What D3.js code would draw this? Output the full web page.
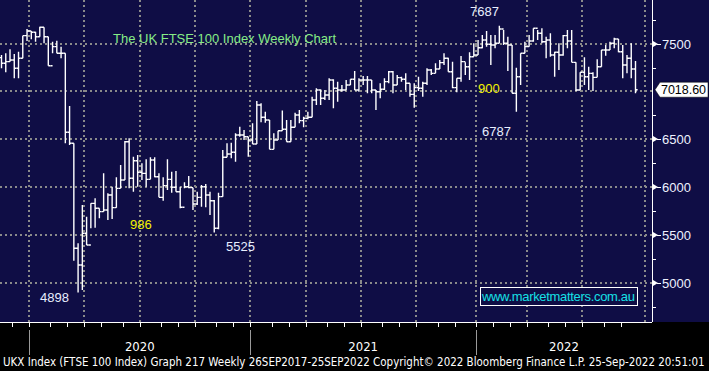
<!DOCTYPE html>
<html>
<head>
<meta charset="utf-8">
<script src="https://cdn.jsdelivr.net/npm/d3@7"></script>
<style>
  body { margin: 0; background: #000; }
  svg { display: block; }
  text { font-family: "Liberation Sans", Arial, sans-serif; }
  .cond { font-family: "DejaVu Sans", sans-serif; font-stretch: condensed; }
</style>
</head>
<body>
<svg id="chart" width="709" height="371"></svg>
<script>
// weekly bars, first week ending 15 Nov 2019, last 23 Sep 2022
const firstWeek = new Date(2019, 10, 15);
const lastWeek = new Date(2022, 8, 23);

const opens = [7354,7295,7312,7330,7243,7347,7584,7633,7619,7573,7672,7573,7270,7469,7400,7400,6573,6458,5360,5185,
  5517,5394,5830,5778,5743,5761,5917,5785,5987,6074,6475,6092,6276,6155,6144,6081,6284,6109,5893,6015,
  6081,5998,5952,5789,6004,5994,5823,5893,6004,5917,5858,5569,5900,6312,6346,6364,6545,6545,6527,6493,
  6451,6859,6730,6702,6395,6493,6590,6605,6475,6626,6754,6695,6720,6730,6911,7016,6929,6963,7120,7034,
  7016,7016,7068,7128,7016,7120,7120,7120,7016,6998,7023,7103,7207,7068,7145,7128,7086,6970,7040,7034,
  7086,7225,7190,7235,7302,7347,7207,7040,7138,7312,7259,7364,7382,7458,7539,7494,7486,7504,7654,7504,
  7486,6981,7155,7400,7469,7528,7661,7609,7521,7539,7382,7410,7382,7584,7528,7305,7016,7201,7155,7190,
  7148,7259,7434,7434,7504,7549,7416,7277,7347,7235];
const highs = [7382,7400,7441,7392,7416,7584,7654,7633,7626,7678,7672,7573,7521,7531,7469,7400,6848,6458,5412,5813,
  5690,5830,5883,5778,6144,5935,6004,6103,6231,6482,6510,6318,6336,6249,6291,6312,6312,6144,6103,6291,
  6161,6169,6004,6050,6116,5994,5952,6022,6032,5952,5865,5941,6388,6458,6465,6563,6632,6597,6527,6667,
  6901,6877,6789,6702,6563,6590,6800,6702,6702,6778,6807,6737,6789,6946,7034,7023,7016,7138,7128,7103,
  7068,7120,7128,7214,7138,7162,7162,7120,7016,7086,7138,7214,7214,7172,7155,7190,7086,7086,7155,7103,
  7243,7235,7295,7330,7400,7354,7312,7138,7371,7305,7410,7504,7539,7591,7633,7591,7591,7687,7643,7573,
  7486,7249,7400,7521,7591,7661,7643,7661,7573,7609,7416,7504,7591,7643,7643,7305,7201,7358,7259,7201,
  7337,7434,7486,7521,7563,7549,7486,7382,7504,7319];
const lows = [7243,7201,7312,7138,7138,7347,7528,7546,7521,7573,7504,7270,7400,7400,7347,6458,6440,5230,4898,4924,
  5394,5569,5575,5674,5743,5656,5667,5785,5987,6074,5987,5952,6004,6074,6004,6081,6103,5893,5858,5970,
  5941,5952,5778,5987,5987,5761,5813,5795,5789,5708,5525,5558,5900,6312,6301,6266,6527,6493,6318,6451,
  6451,6678,6674,6395,6395,6493,6590,6475,6475,6626,6667,6626,6709,6730,6859,6859,6911,6911,6824,6893,
  6998,7016,7068,7016,6998,7068,6981,6981,6807,6929,7016,7086,6981,7068,7103,7016,6946,6831,7005,6946,
  7068,7172,7190,7235,7277,7207,7034,6992,7103,7172,7120,7364,7382,7452,7469,7277,7452,7504,7486,7214,
  6981,6787,7068,7400,7469,7521,7539,7504,7347,7364,7155,7225,7375,7452,7305,7005,7016,7068,7016,7005,
  7148,7259,7375,7434,7452,7410,7138,7190,7138,6981];
const closes = [7295,7312,7330,7243,7347,7584,7633,7619,7573,7672,7573,7270,7469,7400,7400,6573,6458,5360,5185,5517,
  5394,5830,5778,5743,5761,5917,5785,5987,6074,6475,6092,6276,6155,6144,6081,6284,6109,5893,6015,6081,
  5998,5952,5789,6004,5994,5823,5893,6004,5917,5858,5569,5900,6312,6346,6364,6545,6545,6527,6493,6451,
  6859,6730,6702,6395,6493,6590,6605,6475,6626,6754,6695,6720,6730,6911,7016,6929,6963,7120,7034,7016,
  7016,7068,7128,7016,7120,7120,7120,7016,6998,7023,7103,7207,7068,7145,7128,7086,6970,7040,7034,7086,
  7225,7190,7235,7302,7347,7207,7040,7138,7312,7259,7364,7382,7458,7539,7494,7486,7504,7654,7504,7486,
  6981,7155,7400,7469,7528,7661,7609,7521,7539,7382,7410,7382,7584,7528,7305,7016,7201,7155,7190,7148,
  7259,7434,7434,7504,7549,7416,7277,7347,7235,7018.6];

const yTicks = [5000, 5500, 6000, 6500, 7000, 7500];
const yMinor = [4750, 5250, 5750, 6250, 6750, 7250, 7750];
const yearLabels = ["2020", "2021", "2022"];
const lastPrice = "7018.60";
const footer = "UKX Index (FTSE 100 Index) Graph 217  Weekly 26SEP2017-25SEP2022  Copyright\u00a9 2022 Bloomberg Finance L.P.  25-Sep-2022 20:51:01";
const notes = [
  {text: "7687", color: "#e8eeff", x: 470, y: 16},
  {text: "900", color: "#f2f200", x: 478, y: 93},
  {text: "6787", color: "#e8eeff", x: 482, y: 136},
  {text: "986", color: "#f2f200", x: 130, y: 229},
  {text: "4898", color: "#e8eeff", x: 40, y: 302},
  {text: "5525", color: "#e8eeff", x: 226, y: 251}
];

const W = 709, H = 371;
const plotW = 652, plotH = 322;
const navy = "#0f0d45";

const weeks = d3.timeFriday.range(firstWeek, d3.timeDay.offset(lastWeek, 1));
const n = closes.length;

const svg = d3.select("svg#chart");
svg.append("rect").attr("width", W).attr("height", H).attr("fill", "#000");
svg.append("rect").attr("width", W).attr("height", plotH).attr("fill", navy);

const x = d3.scaleLinear().domain([0, n - 1]).range([1.5, 635.5]);
const step = x(1) - x(0);
const y = d3.scaleLinear().domain([4589, 7957]).range([plotH, 0]);

// boundaries: first bar of each month / quarter / year
const monthStarts = [], quarterStarts = [], yearStarts = [];
weeks.forEach((d, i) => {
  if (i === 0) return;
  const p = weeks[i - 1];
  if (d.getMonth() !== p.getMonth()) {
    monthStarts.push(i);
    if (d.getMonth() % 3 === 0) quarterStarts.push(i);
    if (d.getFullYear() !== p.getFullYear()) yearStarts.push(i);
  }
});
const bx = i => x(i - 0.5);
const gridX = quarterStarts.map(bx).concat([x(n - 1) + 2.2 * step]);

// grid
const grid = svg.append("g")
  .attr("stroke", "#8a8a8a")
  .attr("stroke-width", 2)
  .attr("stroke-dasharray", "2,3");
grid.selectAll("line.h").data(yTicks).join("line")
  .attr("x1", 0).attr("x2", plotW)
  .attr("y1", d => Math.round(y(d))).attr("y2", d => Math.round(y(d)));
grid.selectAll("line.v").data(gridX).join("line")
  .attr("x1", d => Math.round(d)).attr("x2", d => Math.round(d))
  .attr("y1", 0).attr("y2", plotH);

// title
svg.append("text")
  .attr("x", 113).attr("y", 43)
  .attr("fill", "#86ec86")
  .attr("font-size", 13)
  .attr("textLength", 223)
  .text("The UK FTSE 100 Index Weekly Chart");

// OHLC bars
const bars = svg.append("g")
  .attr("stroke", "#fff")
  .attr("stroke-width", 1.4)
  .attr("fill", "none");
bars.selectAll("path").data(d3.range(n)).join("path")
  .attr("d", i => {
    const cx = x(i), t = step / 2;
    return `M${cx},${y(highs[i])}V${y(lows[i])}` +
      `M${cx - t},${y(opens[i])}H${cx}` +
      `M${cx},${y(closes[i])}H${cx + t}`;
  });

// notes
svg.selectAll("text.note").data(notes).join("text")
  .attr("class", "note")
  .attr("x", d => d.x).attr("y", d => d.y)
  .attr("fill", d => d.color)
  .attr("font-size", 13)
  .text(d => d.text);

// watermark
svg.append("rect")
  .attr("x", 480.5).attr("y", 287.5).attr("width", 157).attr("height", 18)
  .attr("fill", navy).attr("stroke", "#fff").attr("stroke-width", 1);
svg.append("text")
  .attr("x", 482).attr("y", 301)
  .attr("fill", "#16e0e6")
  .attr("font-size", 13)
  .attr("textLength", 153)
  .text("www.marketmatters.com.au");

// right axis
const ax = svg.append("g");
ax.append("line")
  .attr("x1", plotW + 0.5).attr("x2", plotW + 0.5)
  .attr("y1", 0).attr("y2", plotH)
  .attr("stroke", "#fff");
ax.selectAll("line.minor").data(yMinor).join("line")
  .attr("x1", plotW).attr("x2", plotW + 4)
  .attr("y1", d => Math.round(y(d)) + 0.5).attr("y2", d => Math.round(y(d)) + 0.5)
  .attr("stroke", "#fff");
const major = ax.selectAll("g.major").data(yTicks.filter(d => d !== 7000)).join("g")
  .attr("transform", d => `translate(${plotW},${Math.round(y(d))})`);
major.append("path")
  .attr("d", "M1,-3L6,0L1,3Z")
  .attr("fill", "#fff");
major.append("line")
  .attr("x1", 5).attr("x2", 9).attr("y1", 0.5).attr("y2", 0.5)
  .attr("stroke", "#fff");
major.append("text")
  .attr("x", 10).attr("y", 5)
  .attr("fill", "#eef2ff")
  .attr("font-size", 13)
  .text(d => d);

// last price flag
const ly = y(closes[n - 1]);
svg.append("path")
  .attr("d", `M655,${ly}L660,${ly - 7.5}H708V${ly + 7.5}H660Z`)
  .attr("fill", "#fff").attr("stroke", "#000").attr("stroke-width", 0.5);
svg.append("text")
  .attr("x", 661).attr("y", ly + 4.5)
  .attr("fill", "#000")
  .attr("font-size", 12.5)
  .attr("textLength", 45)
  .text(lastPrice);

// bottom axis
const bottom = svg.append("g");
bottom.append("line")
  .attr("x1", 0).attr("x2", plotW)
  .attr("y1", plotH + 0.5).attr("y2", plotH + 0.5)
  .attr("stroke", "#fff");
bottom.selectAll("line.m").data(monthStarts).join("line")
  .attr("x1", d => Math.round(bx(d)) + 0.5).attr("x2", d => Math.round(bx(d)) + 0.5)
  .attr("y1", plotH).attr("y2", plotH + 5)
  .attr("stroke", "#fff");
bottom.selectAll("line.yr").data(yearStarts).join("line")
  .attr("x1", d => Math.round(bx(d)) + 0.5).attr("x2", d => Math.round(bx(d)) + 0.5)
  .attr("y1", plotH + 8).attr("y2", 355)
  .attr("stroke", "#9a9a9a");
const yearEdges = yearStarts.map(bx).concat([plotW]);
bottom.selectAll("text.yr").data(yearLabels).join("text")
  .attr("class", "cond")
  .attr("x", (d, i) => (yearEdges[i] + yearEdges[i + 1]) / 2)
  .attr("y", 351)
  .attr("text-anchor", "middle")
  .attr("fill", "#fff")
  .attr("font-size", 13)
  .text(d => d);

// footer, sized so it fits the width naturally
const foot = svg.append("text")
  .attr("class", "cond")
  .attr("x", 3).attr("y", 366)
  .attr("fill", "#fff")
  .attr("font-size", 12)
  .text(footer);
const natural = foot.node().getComputedTextLength();
if (natural > 702) foot.attr("font-size", 12 * 702 / natural);
</script>
</body>
</html>
